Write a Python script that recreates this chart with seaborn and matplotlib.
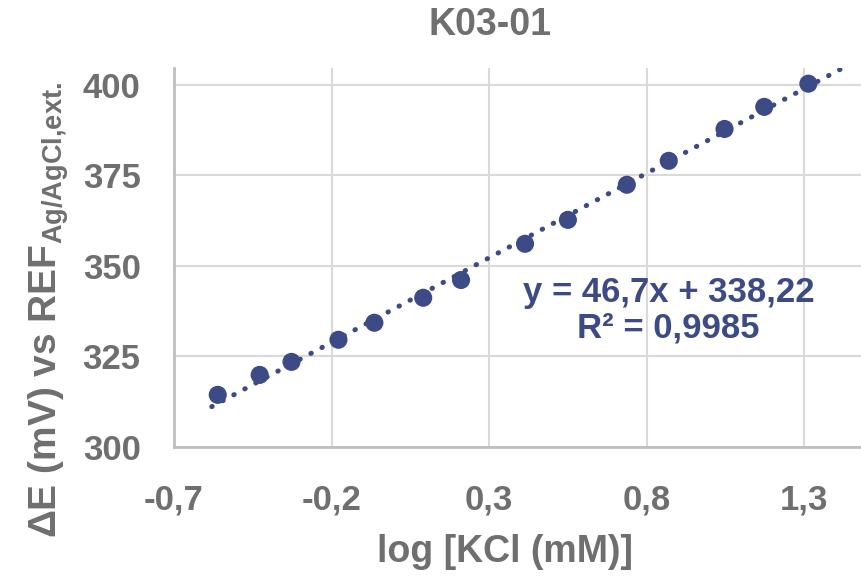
import numpy as np
import pandas as pd
import seaborn as sns
import matplotlib.pyplot as plt

# data
log_kcl = [-0.561, -0.428, -0.327, -0.178, -0.064, 0.091, 0.211,
           0.414, 0.550, 0.737, 0.870, 1.047, 1.173, 1.313]
delta_e = [314.4, 319.9, 323.5, 329.6, 334.3, 341.2, 346.1,
           356.1, 362.7, 372.4, 379.0, 387.8, 393.9, 400.3]
slope = 46.7
intercept = 338.22
trend_x = [-0.58, 1.48]
x_ticks = [-0.7, -0.2, 0.3, 0.8, 1.3]
y_ticks = [300, 325, 350, 375, 400]

sns.set_style("white")
plt.rcParams['font.family'] = ['Liberation Sans', 'DejaVu Sans']
plt.rcParams['font.weight'] = 'bold'
plt.rcParams['mathtext.fontset'] = 'custom'
plt.rcParams['mathtext.rm'] = 'Liberation Sans:bold'
plt.rcParams['mathtext.it'] = 'Liberation Sans:bold'
plt.rcParams['mathtext.bf'] = 'Liberation Sans:bold'
plt.rcParams['mathtext.default'] = 'rm'

gray = '#6f6f6f'
blue = '#3c4b86'

df = pd.DataFrame({'x': log_kcl, 'y': delta_e})
trend = pd.DataFrame({'x': trend_x, 'y': [slope * v + intercept for v in trend_x]})

fig = plt.figure(figsize=(8.61, 5.79), dpi=100)
ax = fig.add_axes([0.202, 0.228, 0.798, 0.655])

ax.grid(True, color='#d9d9d9', lw=1.5)
sns.lineplot(data=trend, x='x', y='y', ax=ax, color=blue, lw=3.6,
             linestyle=(0, (0.1, 2.4)), dash_capstyle='round', zorder=3)
sns.scatterplot(data=df, x='x', y='y', ax=ax, color=blue, s=170,
                edgecolor='none', zorder=4)

ax.set_xlim(-0.7, 1.48)
ax.set_ylim(300, 404.7)
ax.set_xticks(x_ticks)
ax.set_yticks(y_ticks)
ax.set_xticklabels([f'{t:.1f}'.replace('.', ',') for t in x_ticks])
ax.set_yticklabels([str(t) for t in y_ticks])
ax.tick_params(axis='x', length=0, pad=26, labelsize=25, labelcolor=gray)
ax.tick_params(axis='y', length=0, pad=24, labelsize=25, labelcolor=gray)
for lab in ax.get_xticklabels() + ax.get_yticklabels():
    lab.set_fontweight('bold')

for s in ['top', 'right']:
    ax.spines[s].set_visible(False)
for s in ['left', 'bottom']:
    ax.spines[s].set_color('#bfbfbf')
    ax.spines[s].set_linewidth(2)

ax.set_xlabel('log [KCl (mM)]', fontsize=27, color=gray, fontweight='bold')
ax.xaxis.set_label_coords(0.482, -0.23)
ax.set_ylabel(r'ΔE (mV) vs REF$_{Ag/AgCl{,}ext.}$', fontsize=28,
              color=gray, fontweight='bold')
ax.yaxis.set_label_coords(-0.15, 0.36)

ax.text(0.72, 0.36, 'y = 46,7x + 338,22\nR² = 0,9985', transform=ax.transAxes,
        ha='center', va='center', fontsize=25, color=blue,
        fontweight='bold', linespacing=1.1)

fig.text(0.569, 0.957, 'K03-01', ha='center', va='center', fontsize=27,
         color=gray, fontweight='bold')

fig.savefig('out.png', dpi=100)
